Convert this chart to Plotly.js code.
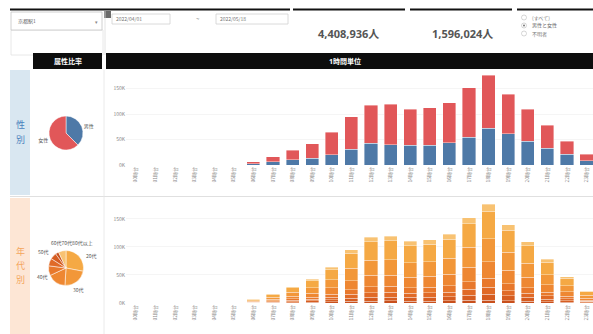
<!DOCTYPE html>
<html><head><meta charset="utf-8">
<script src="https://cdn.plot.ly/plotly-3.0.1.min.js"></script>
<style>html,body{margin:0;padding:0;background:#fff}#chart{width:593px;height:334px}</style>
</head><body><div id="chart"></div><script>
// ---- data ----
const hours = ["00時台","01時台","02時台","03時台","04時台","05時台","06時台","07時台","08時台","09時台","10時台","11時台",
               "12時台","13時台","14時台","15時台","16時台","17時台","18時台","19時台","20時台","21時台","22時台","23時台"];
const male   = [0,0,0,0,0,0,2100,6200,10400,13300,20500,31200,42300,39400,38800,39100,44200,54600,72300,61200,47100,33400,21300,8200];
const female = [0,0,0,0,0,0,4300,10100,18800,28900,43600,63900,74800,79700,71200,73800,77900,97600,103800,77900,62100,44800,25900,12900];
const sexLabels = ["男性","女性"];

const ageLabels = ["80代以上","70代","60代","50代","40代","30代","20代","10代"]; // bottom -> top in bars
const age80 = [0,0,0,0,0,0,200,500,900,1300,1900,2900,3500,3600,3300,3400,3700,4600,5300,4200,3300,2300,1400,600];
const age70 = [0,0,0,0,0,0,400,1000,1700,2500,3800,5700,7000,7100,6600,6800,7300,9100,10600,8300,6600,4700,2800,1300];
const age60 = [0,0,0,0,0,0,500,1100,2000,3000,4500,6700,8200,8300,7700,7900,8500,10700,12300,9700,7600,5500,3300,1500];
const age50 = [0,0,0,0,0,0,600,1500,2600,3800,5800,8600,10500,10700,9900,10200,11000,13700,15800,12500,9800,7000,4200,1900];
const age40 = [0,0,0,0,0,0,1100,2800,5000,7200,10900,16200,19900,20200,18700,19200,20800,25900,29900,23600,18600,13300,8000,3600];
const age30 = [0,0,0,0,0,0,1400,3700,6700,9700,14800,21800,26900,27400,25300,26000,28100,35000,40500,32000,25100,18000,10900,4900];
const age20 = [0,0,0,0,0,0,1800,4600,8200,11800,17900,26600,32800,33400,30800,31600,34200,42600,49300,39000,30600,21900,13200,5900];
const age10 = [0,0,0,0,0,0,400,1100,2100,2900,4500,6600,8300,8400,7700,7800,8500,10600,12400,9800,7600,5500,3400,1400];
const ageSeries = [age80, age70, age60, age50, age40, age30, age20, age10];
const ageColors = ["#c8501d","#d65d21","#e06a27","#e8782c","#ee8732","#f29739","#f5a944","#f8c272"];

const yTickVals = [0,50000,100000,150000];
const yTickText = ["0K","50K","100K","150K"];

const kpiTotal = "4,408,936人";
const kpiSelected = "1,596,024人";
const radioItems = ["(すべて)","男性と女性","不明者"];
const sideSex = ["性","別"];
const sideAge = ["年","代","別"];

// ---- helpers (pixel -> paper) ----
const W = 593, H = 334;
const px = x => x / W, py = y => 1 - y / H;
function rect(x0,y0,x1,y1,fill,line,lw){
  return {type:"rect",xref:"paper",yref:"paper",x0:px(x0),x1:px(x1),y0:py(y1),y1:py(y0),
          fillcolor:fill||"rgba(0,0,0,0)",line:{color:line||"rgba(0,0,0,0)",width:lw||0},layer:"below"};
}
function txt(x,y,t,size,color,anchor,extra){
  return Object.assign({xref:"paper",yref:"paper",x:px(x),y:py(y),text:t,showarrow:false,
    xanchor:anchor||"center",yanchor:"middle",font:{size:size,color:color||"#555",family:"Noto Sans CJK JP, Noto Sans, sans-serif"}},extra||{});
}

const traces = [];
// top: gender stacked bars
traces.push({type:"bar",x:hours,y:male,name:sexLabels[0],marker:{color:"#4e79a7",line:{color:"#ffffff",width:0.4}},xaxis:"x",yaxis:"y",hoverinfo:"skip"});
traces.push({type:"bar",x:hours,y:female,name:sexLabels[1],marker:{color:"#e15759",line:{color:"#ffffff",width:0.4}},xaxis:"x",yaxis:"y",hoverinfo:"skip"});
// bottom: age stacked bars
ageSeries.forEach((s,i)=>{
  traces.push({type:"bar",x:hours,y:s,name:ageLabels[i],marker:{color:ageColors[i],line:{color:"rgba(255,255,255,0.7)",width:0.5}},xaxis:"x2",yaxis:"y2",hoverinfo:"skip"});
});
// pies
const sum = a => a.reduce((p,c)=>p+c,0);
traces.push({type:"pie",labels:sexLabels,values:[sum(male),sum(female)],sort:false,direction:"clockwise",rotation:0,
  marker:{colors:["#4e79a7","#e15759"],line:{color:"#fff",width:0.5}},textinfo:"label",textposition:"outside",
  textfont:{size:5,color:"#555"},domain:{x:[px(49),px(83)],y:[py(150),py(116)]},showlegend:false,hoverinfo:"skip"});
const pieOrder = [6,5,4,3,2,1,0,7]; // 20代,30代,40代,50代,60代,70代,80代以上,10代 clockwise
traces.push({type:"pie",labels:pieOrder.map(i=>ageLabels[i]),values:pieOrder.map(i=>sum(ageSeries[i])),sort:false,direction:"clockwise",rotation:0,
  marker:{colors:pieOrder.map(i=>ageColors[i]),line:{color:"#fff",width:0.5}},textinfo:"none",
  domain:{x:[px(48.5),px(83.5)],y:[py(285.5),py(250.5)]},showlegend:false,hoverinfo:"skip"});

const xCommon = {type:"category",domain:[px(126),1],range:[-0.5,23.33],tickangle:-90,tickfont:{size:5,color:"#888"},
  showgrid:false,zeroline:false,showline:false,ticks:"",fixedrange:true};
const yCommon = {tickvals:yTickVals,ticktext:yTickText,tickfont:{size:5,color:"#888"},gridcolor:"#eeeeee",gridwidth:0.6,
  zeroline:false,showline:false,ticks:"",fixedrange:true};

const shapes = [
  // top black strip
  rect(10,8.5,290,10.5,"#111"), rect(293,8.5,405,10.5,"#111"), rect(410,8.5,512,10.5,"#111"), rect(517,8.5,593,10.5,"#111"),
  // filter panel
  rect(11,30,103,55,"#fff","#e2e2e2",0.8),
  rect(11,12,102,30,"#fff","#c4c4c4",0.8),
  {type:"line",xref:"paper",yref:"paper",x0:px(105),x1:px(105),y0:py(55),y1:py(11),line:{color:"#dddddd",width:0.8}},
  rect(104,11,111,18,"#6b6b6b"),
  rect(112,14,170,24,"#fff","#d0d0d0",0.8),
  rect(216,14,288,24,"#fff","#d0d0d0",0.8),
  // headers
  rect(33,53,102,69,"#0d0d0d"),
  rect(106,53,593,69,"#0d0d0d"),
  // side bands
  rect(10,70,30,195,"#d9e7f1"),
  rect(10,198,30,334,"#fde6d5"),
  // dividers
  {type:"line",xref:"paper",yref:"paper",x0:px(10),x1:px(593),y0:py(196.5),y1:py(196.5),line:{color:"#d8d8d8",width:0.8}},
  {type:"line",xref:"paper",yref:"paper",x0:px(104),x1:px(104),y0:py(334),y1:py(70),line:{color:"#e4e4e4",width:0.8}},
  // radio buttons
  {type:"circle",xref:"paper",yref:"paper",x0:px(521.5),x1:px(526.5),y0:py(20),y1:py(15),line:{color:"#bbb",width:0.6},fillcolor:"#fff"},
  {type:"circle",xref:"paper",yref:"paper",x0:px(521.5),x1:px(526.5),y0:py(28),y1:py(23),line:{color:"#bbb",width:0.6},fillcolor:"#fff"},
  {type:"circle",xref:"paper",yref:"paper",x0:px(523),x1:px(525),y0:py(26.5),y1:py(24.5),line:{width:0},fillcolor:"#777"},
  {type:"circle",xref:"paper",yref:"paper",x0:px(521.5),x1:px(526.5),y0:py(36),y1:py(31),line:{color:"#bbb",width:0.6},fillcolor:"#fff"}
];

const bold = (s,c)=>({font:{size:s,color:c,family:"Noto Sans, Noto Sans CJK JP, sans-serif",weight:"bold"}});
const annotations = [
  txt(16,21,"京都駅1",5,"#666","left"),
  txt(96,21,"▾",5,"#888","center"),
  txt(114,19,"2022/04/01",5,"#777","left"),
  txt(198,19,"~",6,"#777","center"),
  txt(218,19,"2022/05/18",5,"#777","left"),
  txt(348,33,kpiTotal,11,"#555","center",bold(11,"#555")),
  txt(462,33,kpiSelected,11,"#555","center",bold(11,"#555")),
  txt(530,17.5,radioItems[0],5,"#777","left"),
  txt(530,25.5,radioItems[1],5,"#666","left"),
  txt(530,33.5,radioItems[2],5,"#777","left"),
  txt(67.5,61,"属性比率",7,"#fff","center",bold(7,"#fff")),
  txt(345,61,"1時間単位",7,"#fff","center",bold(7,"#fff")),
  txt(20,124,sideSex[0],9,"#4a82bd","center"),
  txt(20,139,sideSex[1],9,"#4a82bd","center"),
  txt(20,251,sideAge[0],9,"#f4a55c","center"),
  txt(20,265,sideAge[1],9,"#f4a55c","center"),
  txt(20,279,sideAge[2],9,"#f4a55c","center"),
  // age pie labels
  txt(72,243,ageLabels[2]+ageLabels[1]+ageLabels[0],5,"#555","center"),
  txt(43,252,ageLabels[3],5,"#555","center"),
  txt(91,256,ageLabels[6],5,"#555","center"),
  txt(42,277,ageLabels[4],5,"#555","center"),
  txt(78,290,ageLabels[5],5,"#555","center")
];

const layout = {
  width:W,height:H,margin:{l:0,r:0,t:0,b:0},paper_bgcolor:"#fff",plot_bgcolor:"#fff",
  barmode:"stack",bargap:0.33,showlegend:false,
  xaxis:Object.assign({},xCommon,{anchor:"y"}),
  yaxis:Object.assign({},yCommon,{domain:[py(165),py(75)],range:[0,177000],anchor:"x"}),
  xaxis2:Object.assign({},xCommon,{anchor:"y2"}),
  yaxis2:Object.assign({},yCommon,{domain:[py(303),py(202)],range:[0,180000],anchor:"x2"}),
  shapes:shapes,annotations:annotations,
  font:{family:"Noto Sans CJK JP, Noto Sans, sans-serif"}
};
Plotly.newPlot("chart",traces,layout,{displayModeBar:false,staticPlot:true});
</script></body></html>
